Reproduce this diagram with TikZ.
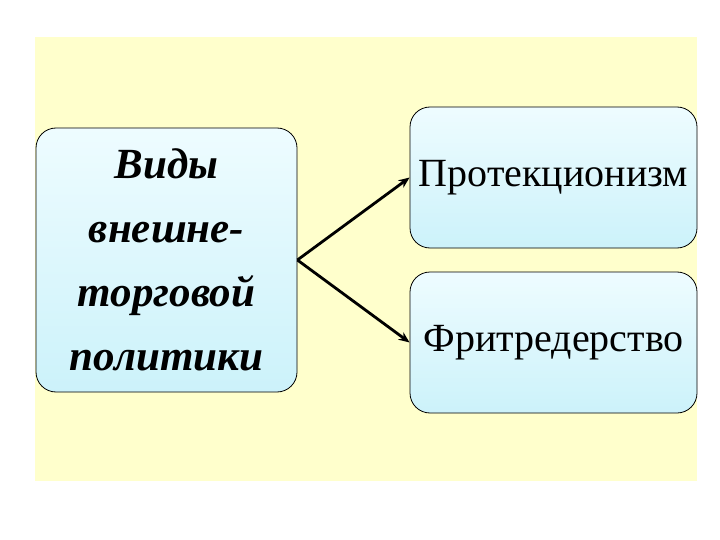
\documentclass[tikz,border=0pt]{standalone}
\usepackage{fontspec}
\setmainfont{Liberation Serif}
\usetikzlibrary{arrows.meta}
\definecolor{bgyellow}{HTML}{FFFFCC}
\definecolor{boxtop}{HTML}{EEFCFF}
\definecolor{boxbot}{HTML}{CCF2FA}
\tikzset{
  box/.style={draw=black, line width=0.8pt, rounded corners=20pt, top color=boxtop, bottom color=boxbot, inner sep=0pt},
  conn/.style={line width=2.8pt, -{Stealth[length=11pt,width=9pt]}}
}
\begin{document}
\begin{tikzpicture}[x=1pt,y=-1pt]
\useasboundingbox (0,0) rectangle (720,540);
\fill[white] (0,0) rectangle (720,540);
\fill[bgyellow] (35,37) rectangle (697,481);
\node[box, minimum width=261pt, minimum height=264pt, align=center,
  font=\fontsize{43}{64}\selectfont\bfseries\itshape] (left) at (166.5,260)
  {Виды\\внешне-\\торговой\\политики};
\node[box, minimum width=287pt, minimum height=141pt, font=\fontsize{40}{48}\selectfont] (prot) at (553.5,177.5)
  {Протекционизм};
\node[box, minimum width=287pt, minimum height=141pt, font=\fontsize{40}{48}\selectfont] (fri) at (553.5,342.5)
  {Фритредерство};
\draw[conn] (left.east) -- (prot.west);
\draw[conn] (left.east) -- (fri.west);
\end{tikzpicture}
\end{document}
